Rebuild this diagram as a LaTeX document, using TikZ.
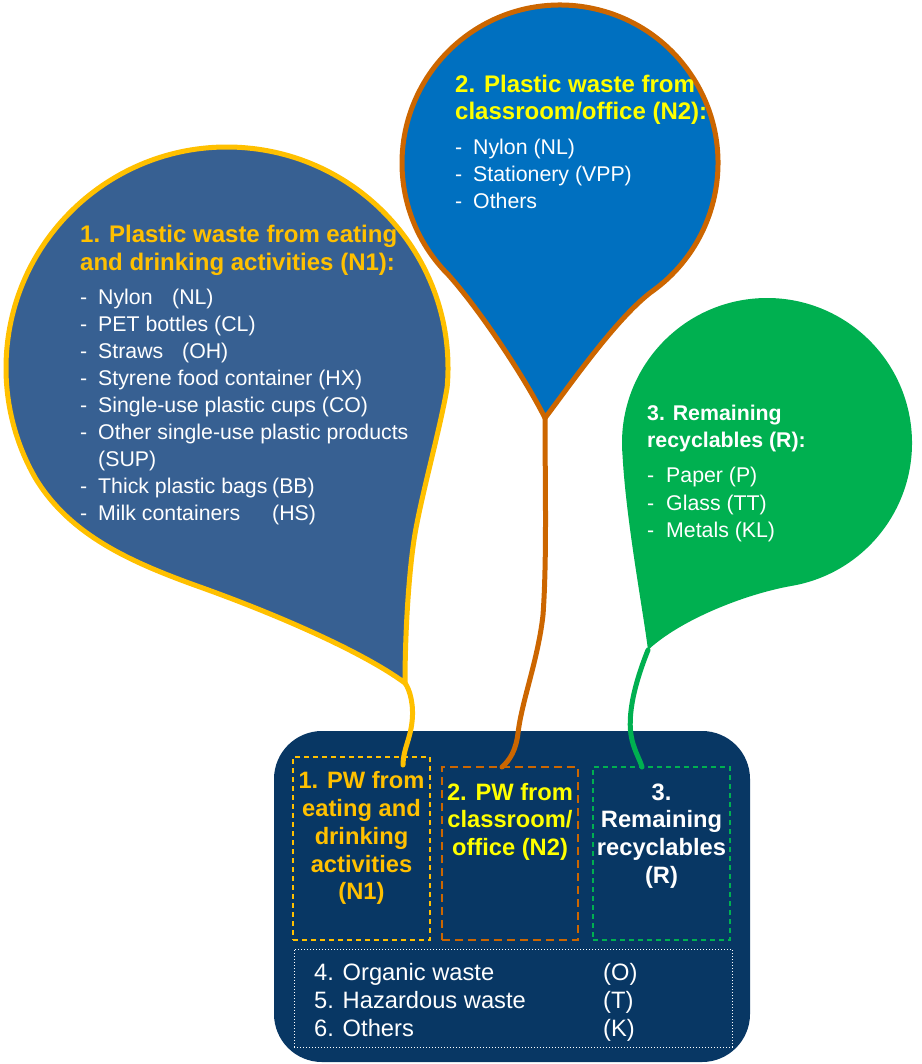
\documentclass[tikz,border=0pt]{standalone}
\usepackage{fontspec}
\setmainfont{Liberation Sans}
\usetikzlibrary{calc}
\definecolor{pwgold}{HTML}{FFC000}
\definecolor{pworange}{HTML}{CC6600}
\definecolor{pwgreen}{HTML}{00B050}
\definecolor{pwyellow}{HTML}{FFFF00}
\definecolor{steelfill}{HTML}{376092}
\definecolor{officefill}{HTML}{0070C0}
\definecolor{navyfill}{HTML}{083764}
\tikzset{
    head/.style={font=\fontsize{24}{28}\selectfont\bfseries, anchor=base west, inner sep=0pt},
    item/.style={font=\fontsize{21.3}{27}\selectfont, text=white, anchor=base west, inner sep=0pt},
    boxtext/.style={font=\fontsize{23.7}{28}\selectfont\bfseries, anchor=base, inner sep=0pt},
    wastetext/.style={font=\fontsize{23.7}{28}\selectfont, text=white, anchor=base west, inner sep=0pt},
    string/.style={line width=5pt, line cap=round},
    pwbox/.style={inner sep=0pt, outer sep=0pt},
}

\begin{document}
\begin{tikzpicture}[x=1pt, y=-1pt]
    \useasboundingbox (0,0) rectangle (921,1064);

    % Define the balloon centres, tips and string ends
    \coordinate (c1) at (227,368);
    \coordinate (c2) at (560,163);
    \coordinate (c3) at (767,443);
    \coordinate (t1) at (405,683);
    \coordinate (t2) at (545,418);
    \coordinate (t3) at (648,650);
    \coordinate (s1) at (403,765);
    \coordinate (s2) at (502,767);
    \coordinate (s3) at (642,767);

    % Draw the bin and its compartments
    \node[fill=navyfill, rounded corners=48pt, minimum width=476pt, minimum height=331pt, inner sep=0pt] (bin) at (512,896.5) {};
    \node[pwbox, draw=pwgold, line width=1.5pt, dash pattern=on 5pt off 4pt, minimum width=137pt, minimum height=183pt] (pw1) at (361.5,848.5) {};
    \node[pwbox, draw=pworange, line width=2.5pt, dash pattern=on 8pt off 5pt, minimum width=136pt, minimum height=173pt] (pw2) at (510,853.5) {};
    \node[pwbox, draw=pwgreen, line width=1.5pt, dash pattern=on 5pt off 4pt, minimum width=137pt, minimum height=173pt] (pw3) at (661.5,853.5) {};
    \node[pwbox, draw=white, line width=1pt, dotted, minimum width=438pt, minimum height=98pt] (other) at (513,998) {};

    % Draw the strings from the tips down to the compartments
    \draw[string, pwgold] (t1) .. controls (410,690) and (414,705) .. (412,722)
        .. controls (410,740) and (403,750) .. (s1);
    \draw[string, pworange] (t2) .. controls (545,480) and (547,560) .. (543,615)
        .. controls (538,660) and (522,700) .. (518,733)
        .. controls (516,750) and (510,760) .. (s2);
    \draw[string, pwgreen] (t3) .. controls (636,680) and (626,715) .. (632,740)
        .. controls (635,752) and (640,760) .. (s3);

    % Draw the three balloons
    \draw[line width=5pt, draw=pwgold, fill=steelfill, line join=round]
        (t1) .. controls (405,640) and (408,580) .. (414,540)
        .. controls (420,500) and (440,430) .. ($(c1)+(5:221)$)
        arc[start angle=5, end angle=-210, radius=221]
        .. controls (70,535) and (130,562) .. (200,587)
        .. controls (270,612) and (360,650) .. cycle;
    \draw[line width=5pt, draw=pworange, fill=officefill, line join=round]
        (t2) .. controls (570,385) and (615,320) .. ($(c2)+(55:158)$)
        arc[start angle=55, end angle=-225, radius=158]
        .. controls (480,310) and (525,378) .. cycle;
    \fill[pwgreen]
        (t3) .. controls (643,610) and (626,520) .. ($(c3)+(175:145)$)
        arc[start angle=175, end angle=440, radius=145]
        .. controls (745,594) and (680,620) .. cycle;

    % Balloon 1 texts
    \node[head, text=pwgold] (h1a) at (80,243) {1. Plastic waste from eating};
    \node[head, text=pwgold] (h1b) at (80,271) {and drinking activities (N1):};
    \foreach \y/\txt [count=\i] in {304/{\makebox[74pt][l]{Nylon}(NL)}, 331/{PET bottles (CL)},
        358/{\makebox[84pt][l]{Straws}(OH)}, 385/{Styrene food container (HX)},
        412/{Single-use plastic cups (CO)}, 439/{Other single-use plastic products},
        493/{\makebox[174pt][l]{Thick plastic bags}(BB)}, 520/{\makebox[174pt][l]{Milk containers}(HS)}}{
        \node[item] (d1-\i) at (80,\y) {-};
        \node[item] (i1-\i) at (98,\y) {\txt};
    }
    \node[item] (i1-sup) at (98,466) {(SUP)};

    % Balloon 2 texts
    \node[head, text=pwyellow] (h2a) at (455,93) {2. Plastic waste from};
    \node[head, text=pwyellow] (h2b) at (455,120) {classroom/office (N2):};
    \foreach \y/\txt [count=\i] in {155/{Nylon (NL)}, 182/{Stationery (VPP)}, 209/{Others}}{
        \node[item] (d2-\i) at (455,\y) {-};
        \node[item] (i2-\i) at (473,\y) {\txt};
    }

    % Balloon 3 texts
    \node[head, font=\fontsize{21.3}{27}\selectfont\bfseries, text=white] (h3a) at (647,420) {3. Remaining};
    \node[head, font=\fontsize{21.3}{27}\selectfont\bfseries, text=white] (h3b) at (647,447) {recyclables (R):};
    \foreach \y/\txt [count=\i] in {482/{Paper (P)}, 510/{Glass (TT)}, 537/{Metals (KL)}}{
        \node[item] (d3-\i) at (647,\y) {-};
        \node[item] (i3-\i) at (666,\y) {\txt};
    }

    % Compartment labels
    \foreach \y/\txt [count=\i] in {788/{1. PW from}, 816/{eating and}, 844/{drinking}, 872/{activities}, 899/{(N1)}}
        \node[boxtext, text=pwgold] (b1-\i) at (361.5,\y) {\txt};
    \foreach \y/\txt [count=\i] in {800/{2. PW from}, 827/{classroom/}, 855/{office (N2)}}
        \node[boxtext, text=pwyellow] (b2-\i) at (510,\y) {\txt};
    \foreach \y/\txt [count=\i] in {800/{3.}, 827/{Remaining}, 855/{recyclables}, 883/{(R)}}
        \node[boxtext, text=white] (b3-\i) at (661.5,\y) {\txt};
    \foreach \y/\txt/\code [count=\i] in {980/{4. Organic waste}/{(O)}, 1008/{5. Hazardous waste}/{(T)}, 1036/{6. Others}/{(K)}}{
        \node[wastetext] (w\i) at (314,\y) {\txt};
        \node[wastetext] (k\i) at (603,\y) {\code};
    }

\end{tikzpicture}
\end{document}
